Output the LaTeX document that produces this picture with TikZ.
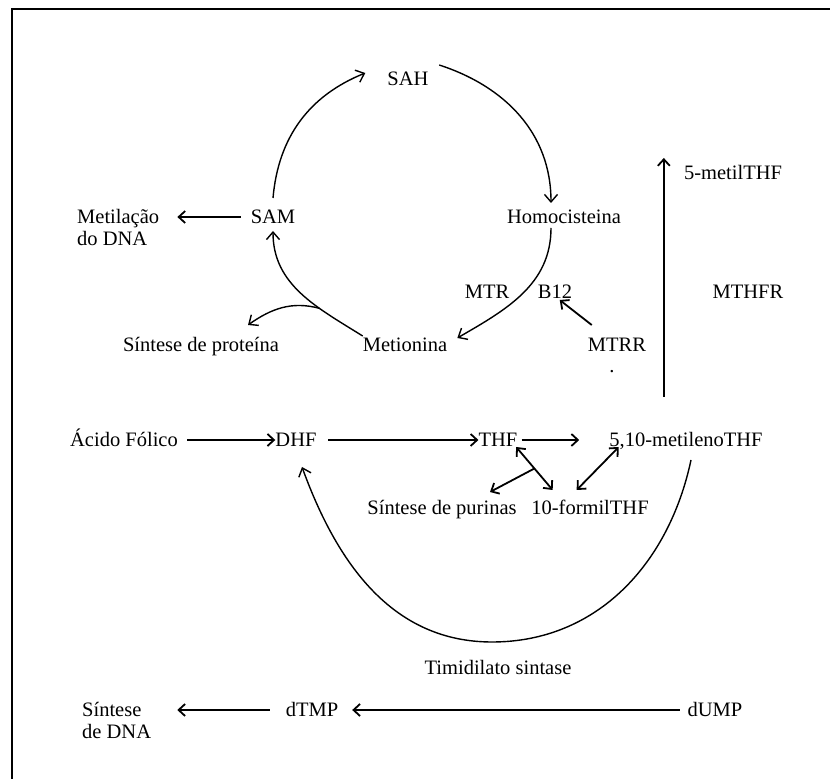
\documentclass[tikz,border=0pt]{standalone}
\usepackage{fontspec}
\setmainfont{Liberation Serif}
\usetikzlibrary{arrows.meta}

\begin{document}
\begin{tikzpicture}[x=1pt, y=1pt,
lbl/.style={inner sep=0, text height=13.6pt, text depth=0pt, font=\fontsize{20.5}{22}\selectfont},
lbltwo/.style={inner sep=0, align=left, anchor=north west, font=\fontsize{20.5}{22}\selectfont},
arr/.style={line width=1.8pt, -{Straight Barb[length=6.5pt, width=12pt]}},
arrb/.style={line width=1.8pt, {Straight Barb[length=6.5pt, width=12pt]}-{Straight Barb[length=6.5pt, width=12pt]}},
curv/.style={line width=1.4pt, -{Straight Barb[length=7.5pt, width=13pt]}}]
\useasboundingbox (0,0) rectangle (830,779);
\draw[line width=2pt] (830,770) -- (12,770) -- (12,0);

\node[lbl] (sah) at (408,700) {SAH};
\node[lbl] (sam) at (273,562) {SAM};
\node[lbl] (hom) at (564,562) {Homocisteina};
\node[lbltwo] (metil) at (77,570) {Metilação\\do DNA};
\node[lbl] (mtr) at (487,487) {MTR};
\node[lbl] (b12) at (555,487) {B12};
\node[lbl] (mthfr) at (748,487) {MTHFR};
\node[lbl] (metthf) at (733,606) {5-metilTHF};
\node[lbl] (prot) at (201,434) {Síntese de proteína};
\node[lbl] (met) at (405,434) {Metionina};
\node[lbl] (mtrr) at (617,434) {MTRR};
\node[lbl] (dot) at (612,413) {.};
\node[lbl] (ac) at (124,339) {Ácido Fólico};
\node[lbl] (dhf) at (296,339) {DHF};
\node[lbl] (thf) at (498,339) {THF};
\node[lbl] (mlthf) at (686,339) {5,10-metilenoTHF};
\node[lbl] (pur) at (442,271) {Síntese de purinas};
\node[lbl] (form) at (590,271) {10-formilTHF};
\node[lbl] (tim) at (498,111) {Timidilato sintase};
\node[lbltwo] (dna) at (82,77) {Síntese\\de DNA};
\node[lbl] (dtmp) at (312,69) {dTMP};
\node[lbl] (dump) at (715,69) {dUMP};

\draw[curv] ([yshift=12]sam.north) to[out=85,in=202] ([shift={(-22,6)}]sah.west);
\draw[curv] ([shift={(10.5,14)}]sah.east) to[out=-18,in=90] ([shift={(-13,7)}]hom.north);
\draw[curv] ([shift={(-13,-4)}]hom.south) to[out=-90,in=30] ([shift={(10,7)}]met.east);
\draw[curv] ([yshift=9]met.west) to[out=148,in=-90] coordinate[pos=0.33] (br) ([yshift=-7]sam.south);
\draw[curv] (br) to[out=165,in=35] ([shift={(47,13)}]prot.north);
\draw[arr, shorten <=10pt, shorten >=18pt] (sam.west) -- (sam.west -| metil.east);
\draw[arr] ([shift={(4,13)}]mtrr.north west) -- ([shift={(22,-1)}]b12.south west);
\coordinate (mtop) at ([shift={(-20,15)}]metthf.west);
\draw[arr, shorten <=36pt] (mtop |- mlthf.north) -- (mtop);

\draw[arr, shorten <=9pt] (ac) -- (dhf);
\draw[arr, shorten <=11.5pt] (dhf) -- (thf);
\draw[arr, shorten <=4pt, shorten >=30pt] (thf) -- (mlthf);
\draw[arrb] ([xshift=-1.4]thf.south east) -- coordinate[pos=0.5] (fk) ([shift={(21.5,11)}]form.north west);
\draw[arr] (fk) -- ([shift={(48,9)}]pur.north);
\draw[arrb] ([xshift=9.5]mlthf.south west) -- ([shift={(45.5,11)}]form.north west);
\draw[curv] ([shift={(5,-13)}]mlthf.south) to[out=-102,in=0] ([shift={(-6,19)}]tim.north) to[out=180,in=-70] ([shift={(6,-20)}]dhf.south);

\draw[arr, shorten <=7.7pt, shorten >=13.8pt] (dump) -- (dtmp);
\draw[arr, shorten <=15.8pt, shorten >=26pt] (dtmp.west) -- (dtmp.west -| dna.east);
\end{tikzpicture}
\end{document}
